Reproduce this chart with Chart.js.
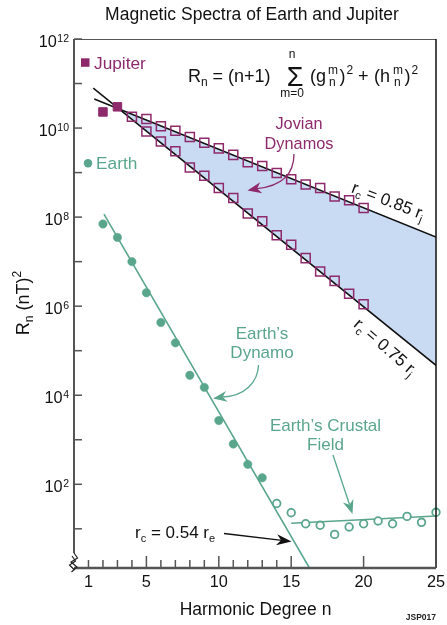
<!DOCTYPE html>
<html><head><meta charset="utf-8">
<script src="https://cdn.jsdelivr.net/npm/chart.js@4.4.1/dist/chart.umd.min.js"></script>
<style>html,body{margin:0;padding:0;background:#fff;}#wrap{width:447px;height:625px;position:relative;}</style>
</head><body><div id="wrap"><canvas id="c"></canvas></div>
<script>
// ---------- data ----------
const jupiterLowDegrees = [2, 3];
const jupiterLowValues = [2.3e10, 3.0e10];
const jupiter085Degrees = [4,5,6,7,8,9,10,11,12,13,14,15,16,17,18,19,20];
const jupiter085Values = [1.8e10,1.6e10,1.1e10,8.7e9,6.3e9,4.7e9,3.5e9,2.5e9,1.7e9,1.4e9,9.8e8,7.1e8,5.4e8,4.5e8,2.9e8,2.4e8,1.6e8];
const jupiter075Degrees = [5,6,7,8,9,10,11,12,13,14,15,16,17,18,19,20];
const jupiter075Values = [8.4e9,5.0e9,3.0e9,1.3e9,8.5e8,4.5e8,2.7e8,1.2e8,8.1e7,3.9e7,2.4e7,1.2e7,6.0e6,3.7e6,1.9e6,1.1e6];
const earthCoreDegrees = [2,3,4,5,6,7,8,9,10,11,12,13];
const earthCoreValues = [7.0e7,3.5e7,1.0e7,2.0e6,4.3e5,1.5e5,2.8e4,1.5e4,2.7e3,8.0e2,2.8e2,1.4e2];
const earthCrustDegrees = [14,15,16,17,18,19,20,21,22,23,24,25];
const earthCrustValues = [37,23,13,12,7.5,11,13,15,13,19,14,23.5];
// fitted lines (end points)
const fit085Degrees = [1.4, 25];   const fit085Values = [4.5e10, 3.56e7];
const fit075Degrees = [1.33, 25];  const fit075Values = [7.9e10, 4.7e4];
const fitEarthDegrees = [2.07, 16.26]; const fitEarthValues = [1.17e8, 1.32];
const fitCrustDegrees = [15.0, 25]; const fitCrustValues = [13.3, 19.4];
// axes
const xRange = [0, 25];
const yRange = [Math.pow(10, 0.12), 1e12];
const xLabelTicks = [1, 5, 10, 15, 20, 25];
const xMinorTicks = [1,2,3,4,6,7,8,9,11,12,13,14];
const xMajorTicks = [5,10,15,20];
const yLabelExponents = [12,10,8,6,4,2];
const yTickExponents = [1,2,3,4,5,6,7,8,9,10,11,12];

// ---------- helpers ----------
const PURPLE = '#8e2a6c', GREEN = '#5aa68c', BLUE = '#c9dbf2', AXIS = '#555555';
const FF = '"Liberation Sans", Arial, Helvetica, sans-serif';
const F = (s, b) => (b ? 'bold ' : '') + s + 'px ' + FF;
const pts = (xs, ys) => xs.map((x, i) => ({x, y: ys[i]}));
function logLine(ns, vs) {
  const a = Math.log10(vs[0]), b = Math.log10(vs[1]);
  const s = (b - a) / (ns[1] - ns[0]);
  return n => a + s * (n - ns[0]);
}
const f085 = logLine(fit085Degrees, fit085Values);
const f075 = logLine(fit075Degrees, fit075Values);
const d0 = f085(2) - f075(2), d1 = f085(25) - f075(25);
const crossN = 2 - d0 * (25 - 2) / (d1 - d0);
const crossV = Math.pow(10, f085(crossN));

function runs(ctx, list, x, y, color, align) {
  ctx.fillStyle = color; ctx.textAlign = 'left'; ctx.textBaseline = 'alphabetic';
  let tot = 0;
  list.forEach(r => { ctx.font = F(r.s); r.w = ctx.measureText(r.t).width; tot += r.w; });
  let cx = align === 'center' ? x - tot / 2 : (align === 'right' ? x - tot : x);
  list.forEach(r => { ctx.font = F(r.s); ctx.fillText(r.t, cx, y + (r.dy || 0)); cx += r.w; });
}
function text(ctx, t, x, y, s, color, align, bold) {
  ctx.font = F(s, bold); ctx.fillStyle = color; ctx.textAlign = align || 'left'; ctx.textBaseline = 'alphabetic';
  ctx.fillText(t, x, y);
}
function head(ctx, x, y, ang, len, hw, color) {
  ctx.save(); ctx.translate(x, y); ctx.rotate(ang); ctx.fillStyle = color;
  ctx.beginPath(); ctx.moveTo(0, 0); ctx.lineTo(-len, -hw); ctx.lineTo(-len * 0.7, 0); ctx.lineTo(-len, hw);
  ctx.closePath(); ctx.fill(); ctx.restore();
}

const decor = {
  id: 'decor',
  afterDraw(chart) {
    const ctx = chart.ctx, a = chart.chartArea, xs = chart.scales.x, ys = chart.scales.y;
    ctx.save();
    // frame
    ctx.strokeStyle = AXIS; ctx.lineWidth = 1;
    ctx.beginPath(); ctx.moveTo(a.left, a.top + 0.5); ctx.lineTo(a.right, a.top + 0.5); ctx.stroke();
    ctx.strokeStyle = '#111'; ctx.lineWidth = 1.5;
    ctx.beginPath(); ctx.moveTo(a.right, a.top); ctx.lineTo(a.right, a.bottom); ctx.stroke();
    ctx.strokeStyle = AXIS; ctx.lineWidth = 2;
    ctx.beginPath(); ctx.moveTo(a.left, a.top); ctx.lineTo(a.left, a.bottom - 15); ctx.stroke();
    ctx.lineWidth = 2.5;
    ctx.beginPath(); ctx.moveTo(a.left, a.bottom); ctx.lineTo(a.right, a.bottom); ctx.stroke();
    // axis break
    ctx.lineWidth = 1.2; ctx.strokeStyle = '#222';
    ctx.beginPath(); ctx.moveTo(a.left, a.bottom - 15); ctx.lineTo(a.left + 3.5, a.bottom - 10);
    ctx.lineTo(a.left - 3, a.bottom - 6); ctx.lineTo(a.left + 3, a.bottom - 1); ctx.lineTo(a.left - 2.5, a.bottom + 4);
    ctx.stroke();
    ctx.beginPath(); ctx.moveTo(a.left - 2, a.bottom - 12); ctx.lineTo(a.left + 1.5, a.bottom - 7);
    ctx.lineTo(a.left - 4.5, a.bottom - 3); ctx.lineTo(a.left + 0.5, a.bottom + 2); ctx.stroke();
    // y ticks
    ctx.strokeStyle = AXIS; ctx.lineWidth = 1.5;
    yTickExponents.forEach(e => {
      const y = ys.getPixelForValue(Math.pow(10, e));
      ctx.beginPath(); ctx.moveTo(a.left, y); ctx.lineTo(a.left + 8, y); ctx.stroke();
    });
    // x ticks
    xMinorTicks.forEach(n => { const x = xs.getPixelForValue(n);
      ctx.beginPath(); ctx.moveTo(x, a.bottom); ctx.lineTo(x, a.bottom - 8); ctx.stroke(); });
    xMajorTicks.forEach(n => { const x = xs.getPixelForValue(n);
      ctx.beginPath(); ctx.moveTo(x, a.bottom); ctx.lineTo(x, a.bottom - 12); ctx.stroke(); });
    // y labels
    yLabelExponents.forEach(e => {
      const y = ys.getPixelForValue(Math.pow(10, e));
      ctx.font = F(10.5); const sw = ctx.measureText(String(e)).width;
      text(ctx, '10', 69 - sw - 0.5, y + 8, 16.3, '#111', 'right');
      text(ctx, String(e), 69 - sw, y + 2.5, 10.5, '#111', 'left');
    });
    // x labels
    xLabelTicks.forEach(n => text(ctx, String(n), xs.getPixelForValue(n), 587, 16.3, '#111', 'center'));
    // titles
    text(ctx, 'Magnetic Spectra of Earth and Jupiter', 252, 20, 17.5, '#111', 'center');
    text(ctx, 'Harmonic Degree n', 255.5, 615, 17.5, '#111', 'center');
    text(ctx, 'JSP017', 436, 620, 8.5, '#222', 'right', true);
    ctx.save(); ctx.translate(22, 303); ctx.rotate(-Math.PI / 2);
    runs(ctx, [{t: 'R', s: 18}, {t: 'n', s: 12, dy: 4}, {t: ' (nT)', s: 18}, {t: '2', s: 12, dy: -8}], 0, 7, '#111', 'center');
    ctx.restore();
    // legend
    ctx.fillStyle = PURPLE; ctx.fillRect(81, 58.3, 8.5, 8.5);
    text(ctx, 'Jupiter', 94, 68.5, 17.3, PURPLE);
    ctx.fillStyle = GREEN; ctx.beginPath(); ctx.arc(88, 163.3, 4.2, 0, Math.PI * 2); ctx.fill();
    text(ctx, 'Earth', 96, 168.5, 17.3, GREEN);
    // formula
    const k = '#111', B = 81.5;
    text(ctx, 'R', 188, B, 18, k); text(ctx, 'n', 201, B + 4, 12, k);
    text(ctx, '= (n+1)', 212.5, B, 18, k);
    text(ctx, '\u03A3', 295, 86, 27, k, 'center');
    text(ctx, 'n', 292, 58.3, 12, k, 'center'); text(ctx, 'm=0', 292, 96.5, 12, k, 'center');
    text(ctx, '(g', 310, B, 18, k); text(ctx, 'm', 328, 73.5, 12, k); text(ctx, 'n', 329, 85.5, 12, k);
    text(ctx, ')', 339.5, B, 18, k); text(ctx, '2', 346.5, 74, 12, k);
    text(ctx, '+', 358, B, 18, k);
    text(ctx, '(h', 374, B, 18, k); text(ctx, 'm', 393, 73.5, 12, k); text(ctx, 'n', 394, 85.5, 12, k);
    text(ctx, ')', 404.5, B, 18, k); text(ctx, '2', 411.5, 74, 12, k);
    // annotation labels
    text(ctx, 'Jovian', 299, 129, 16.3, PURPLE, 'center');
    text(ctx, 'Dynamos', 299, 148.5, 16.3, PURPLE, 'center');
    text(ctx, 'Earth\u2019s', 262, 339, 17, GREEN, 'center');
    text(ctx, 'Dynamo', 262, 358, 17, GREEN, 'center');
    text(ctx, 'Earth\u2019s Crustal', 325.5, 431, 17, GREEN, 'center');
    text(ctx, 'Field', 325.5, 449.5, 17, GREEN, 'center');
    ctx.save(); ctx.translate(388, 201); ctx.rotate(21 * Math.PI / 180);
    runs(ctx, [{t: 'r', s: 17}, {t: 'c', s: 11, dy: 4}, {t: ' = 0.85 r', s: 17}, {t: 'j', s: 11, dy: 4}], 0, 5, '#111', 'center');
    ctx.restore();
    ctx.save(); ctx.translate(385, 347); ctx.rotate(41 * Math.PI / 180);
    runs(ctx, [{t: 'r', s: 17}, {t: 'c', s: 11, dy: 4}, {t: ' = 0.75 r', s: 17}, {t: 'j', s: 11, dy: 4}], 0, 5, '#111', 'center');
    ctx.restore();
    runs(ctx, [{t: 'r', s: 17}, {t: 'c', s: 11, dy: 4}, {t: ' = 0.54 r', s: 17}, {t: 'e', s: 11, dy: 4}], 135, 538, '#111', 'left');
    // arrows
    ctx.lineWidth = 1.3;
    ctx.strokeStyle = PURPLE; ctx.beginPath(); ctx.moveTo(294, 154); ctx.bezierCurveTo(294, 175, 282, 186, 257, 188.6); ctx.stroke();
    head(ctx, 247.5, 190.5, Math.atan2(0.2, -1), 14, 5.5, PURPLE);
    ctx.strokeStyle = GREEN; ctx.beginPath(); ctx.moveTo(258.5, 365); ctx.bezierCurveTo(258, 382, 245, 396, 222.7, 397); ctx.stroke();
    head(ctx, 213, 398.5, Math.atan2(0.15, -1), 14, 5.5, GREEN);
    ctx.beginPath(); ctx.moveTo(333, 455); ctx.lineTo(349.5, 504.5); ctx.stroke();
    head(ctx, 352.5, 514, Math.atan2(59, 19.5), 14, 5.5, GREEN);
    ctx.strokeStyle = '#111'; ctx.beginPath(); ctx.moveTo(224, 533.5); ctx.lineTo(282, 540.3); ctx.stroke();
    head(ctx, 291.5, 541.5, Math.atan2(8, 67.5), 15, 5.5, '#111');
    ctx.restore();
  }
};

const lineDs = (data, color, w, order) => ({data, showLine: true, borderColor: color, borderWidth: w, pointRadius: 0, fill: false, order});
const ptDs = (data, style, r, bg, border, bw, order) => ({data, showLine: false, pointStyle: style, pointRadius: r,
  pointBackgroundColor: bg, pointBorderColor: border, pointBorderWidth: bw, order, clip: false});

new Chart(document.getElementById('c'), {
  type: 'scatter',
  data: { datasets: [
    {data: [{x: crossN, y: crossV}, {x: 25, y: Math.pow(10, f085(25))}], showLine: true, borderColor: 'rgba(0,0,0,0)', borderWidth: 1, pointRadius: 0, fill: false, order: 30},
    {data: [{x: crossN, y: crossV}, {x: 25, y: Math.pow(10, f075(25))}], showLine: true, borderColor: 'rgba(0,0,0,0)', borderWidth: 1, pointRadius: 0, fill: '-1', backgroundColor: BLUE, order: 30},
    lineDs(pts(fit085Degrees, fit085Values), '#111', 1.5, 20),
    lineDs(pts(fit075Degrees, fit075Values), '#111', 1.5, 20),
    lineDs(pts(fitEarthDegrees, fitEarthValues), GREEN, 1.6, 20),
    lineDs(pts(fitCrustDegrees, fitCrustValues), GREEN, 1.6, 20),
    ptDs(pts(jupiterLowDegrees, jupiterLowValues), 'rect', 6, PURPLE, PURPLE, 1, 5),
    ptDs(pts(jupiter085Degrees, jupiter085Values), 'rect', 6.4, 'rgba(0,0,0,0)', PURPLE, 1.5, 5),
    ptDs(pts(jupiter075Degrees, jupiter075Values), 'rect', 6.4, 'rgba(0,0,0,0)', PURPLE, 1.5, 5),
    ptDs(pts(earthCoreDegrees, earthCoreValues), 'circle', 4.2, GREEN, GREEN, 0.5, 5),
    ptDs(pts(earthCrustDegrees, earthCrustValues), 'circle', 3.8, '#fff', GREEN, 1.8, 5)
  ]},
  options: {
    responsive: true, maintainAspectRatio: false, animation: false, events: [],
    layout: {padding: {left: 74, right: 11, top: 39, bottom: 57}},
    scales: {
      x: {type: 'linear', min: xRange[0], max: xRange[1], display: false},
      y: {type: 'logarithmic', min: yRange[0], max: yRange[1], display: false}
    },
    plugins: {legend: {display: false}, tooltip: {enabled: false}}
  },
  plugins: [decor]
});
</script></body></html>
